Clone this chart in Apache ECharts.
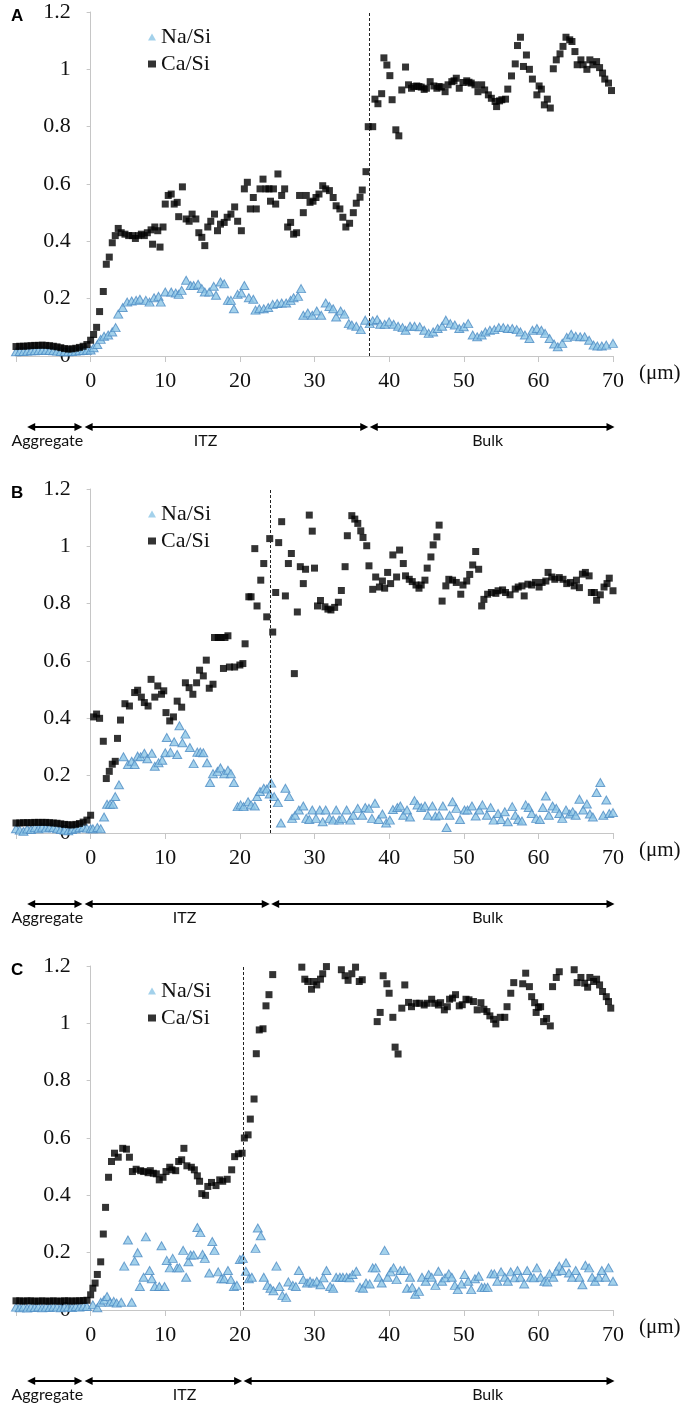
<!DOCTYPE html>
<html>
<head>
<meta charset="utf-8">
<script src="https://cdn.jsdelivr.net/npm/echarts@6/dist/echarts.min.js"></script>
<style>
html, body { margin: 0; padding: 0; background: #fff; }
#chart { width: 686px; height: 1406px; }
</style>
</head>
<body>
<div id="chart"></div>
<script>
// ---- data: [distance (um), ratio] ----
var naSiA = [[-10,0.015],[-9.5,0.016],[-9,0.016],[-8.5,0.017],[-8,0.018],[-7.5,0.018],[-7,0.019],[-6.5,0.02],[-6,0.02],[-5.5,0.019],[-5,0.018],[-4.5,0.017],[-4,0.016],[-3.5,0.015],[-3,0.015],[-2.5,0.016],[-2,0.017],[-1.5,0.018],[-1,0.019],[-0.5,0.02],
  [0,0.021],[0.4,0.029],[0.9,0.04],[1.35,0.058],[1.8,0.069],[2.35,0.073],[2.9,0.084],[3.35,0.099],[3.7,0.146],[4.3,0.169],[4.9,0.188],[5.5,0.192],[6.1,0.194],[6.6,0.198],[7.4,0.194],[7.9,0.188],[8.5,0.203],[9.1,0.208],[9.4,0.188],[10,0.223],[10.8,0.223],[11.4,0.22],[11.8,0.215],[12.2,0.229],[12.8,0.264],[13.4,0.246],[13.8,0.246],[14.4,0.25],[14.9,0.235],[15.3,0.223],[15.9,0.223],[16.5,0.243],[16.8,0.212],[17.4,0.258],[17.9,0.252],[18.4,0.194],[18.8,0.194],[19.2,0.165],[19.7,0.215],[20.2,0.22],[20.6,0.246],[21.2,0.203],[21.8,0.198],[22.1,0.16],[22.6,0.165],[23.2,0.165],[23.8,0.169],[24.4,0.18],[25,0.183],[25.6,0.185],[26.2,0.185],[26.8,0.194],[27.2,0.203],[27.8,0.208],[28.2,0.235],[28.5,0.142],[29.1,0.15],[29.7,0.142],[30.3,0.157],[30.9,0.142],[31.5,0.185],[32,0.173],[32.5,0.165],[32.9,0.136],[33.5,0.157],[34,0.146],[34.6,0.113],[35,0.108],[35.6,0.104],[36.2,0.092],[36.8,0.125],[37.4,0.113],[37.8,0.123],[38.4,0.127],[38.8,0.111],[39.4,0.111],[40,0.119],[40.6,0.111],[41.2,0.104],[41.8,0.099],[42.2,0.09],[42.8,0.104],[43.4,0.104],[44.1,0.102],[44.7,0.09],[45.3,0.079],[45.9,0.084],[46.5,0.096],[47.1,0.104],[47.6,0.125],[48.2,0.113],[48.8,0.108],[49.4,0.096],[50,0.102],[50.6,0.113],[51.2,0.073],[51.8,0.067],[52.4,0.073],[52.9,0.084],[53.5,0.09],[54.1,0.092],[54.7,0.099],[55.3,0.099],[55.9,0.096],[56.5,0.096],[57.1,0.092],[57.6,0.084],[58.2,0.073],[58.8,0.061],[59.2,0.09],[59.8,0.096],[60.4,0.09],[60.9,0.079],[61.5,0.061],[62.1,0.042],[62.6,0.032],[63.2,0.044],[63.8,0.065],[64.4,0.076],[65,0.069],[65.6,0.067],[66.2,0.067],[66.8,0.055],[67.4,0.038],[67.9,0.035],[68.5,0.035],[69.1,0.038],[70,0.044]];

var caSiA = [[-10,0.033],[-9.5,0.034],[-9,0.034],[-8.5,0.035],[-8,0.036],[-7.5,0.037],[-7,0.037],[-6.5,0.038],[-6,0.037],[-5.5,0.036],[-5,0.034],[-4.5,0.032],[-4,0.029],[-3.5,0.026],[-3,0.024],[-2.5,0.025],[-2,0.027],[-1.5,0.03],[-1,0.034],[-0.5,0.04],
  [0,0.055],[0.4,0.075],[0.8,0.1],[1.2,0.155],[1.7,0.225],[2.1,0.32],[2.5,0.345],[2.9,0.395],[3.3,0.42],[3.7,0.445],[4.1,0.43],[4.6,0.425],[5.1,0.42],[5.6,0.42],[6,0.41],[6.4,0.42],[6.8,0.425],[7.2,0.42],[7.6,0.43],[8.1,0.44],[8.3,0.39],[8.6,0.45],[9,0.437],[9.3,0.38],[9.7,0.45],[10,0.53],[10.4,0.56],[10.8,0.565],[11.2,0.53],[11.6,0.536],[11.8,0.486],[12.3,0.59],[12.8,0.478],[13.2,0.47],[13.6,0.495],[14.1,0.478],[14.5,0.43],[14.9,0.414],[15.3,0.385],[15.7,0.45],[16.1,0.47],[16.6,0.495],[17,0.437],[17.4,0.46],[17.9,0.466],[18.3,0.484],[18.8,0.495],[19.3,0.52],[19.7,0.47],[20.2,0.437],[20.6,0.583],[21,0.606],[21.4,0.513],[21.8,0.553],[22.2,0.513],[22.7,0.583],[23.1,0.617],[23.5,0.583],[23.9,0.583],[24.1,0.54],[24.5,0.583],[24.8,0.53],[25.1,0.635],[25.6,0.56],[26,0.583],[26.4,0.45],[26.8,0.466],[27.2,0.425],[27.6,0.43],[28,0.56],[28.5,0.5],[28.9,0.56],[29.4,0.536],[29.8,0.54],[30.2,0.553],[30.6,0.565],[31.1,0.594],[31.5,0.583],[32,0.577],[32.5,0.553],[32.9,0.524],[33.4,0.513],[33.8,0.484],[34.2,0.45],[34.7,0.463],[35.2,0.5],[35.6,0.533],[36.1,0.554],[36.4,0.579],[36.9,0.643],[37.2,0.8],[37.8,0.8],[38.1,0.896],[38.5,0.88],[39,0.915],[39.3,1.04],[39.7,1.015],[40.1,0.978],[40.4,0.894],[40.9,0.789],[41.3,0.768],[41.7,0.928],[42.2,1.008],[42.6,0.946],[43,0.934],[43.3,0.94],[43.7,0.942],[44,0.94],[44.3,0.938],[44.7,0.93],[45,0.934],[45.5,0.957],[46,0.942],[46.4,0.934],[46.7,0.94],[47,0.938],[47.5,0.922],[47.9,0.946],[48.4,0.957],[48.7,0.96],[49,0.969],[49.4,0.934],[49.9,0.954],[50.4,0.96],[50.7,0.955],[51,0.952],[51.5,0.946],[51.9,0.922],[52.4,0.946],[52.8,0.928],[53.3,0.911],[53.7,0.899],[54.2,0.888],[54.4,0.87],[54.8,0.89],[55.1,0.894],[55.6,0.896],[55.9,0.931],[56.4,0.977],[56.9,1.019],[57.2,1.083],[57.6,1.112],[58,1.01],[58.4,1.05],[58.8,1],[59.2,0.966],[59.8,0.911],[60.1,0.942],[60.4,0.931],[60.8,0.876],[61.2,0.896],[61.6,0.865],[62,1.002],[62.4,1.033],[62.9,1.054],[63.3,1.08],[63.7,1.112],[64.2,1.103],[64.5,1.097],[64.9,1.062],[65.2,1.016],[65.7,1.033],[66,1.016],[66.5,1],[66.9,1.033],[67.3,1.016],[67.8,1.027],[68.2,1.006],[68.6,0.987],[68.9,0.966],[69.4,0.952],[69.8,0.926]];

var naSiB = [[-10,0.015],[-9.5,0.01],[-9,0.006],[-8.5,0.014],[-8,0.012],[-7.5,0.018],[-7,0.015],[-6.5,0.02],[-6,0.017],[-5.5,0.02],[-5,0.018],[-4.5,0.015],[-4,0.012],[-3.5,0.01],[-3,0.008],[-2.5,0.012],[-2,0.015],[-1.5,0.018],[-1,0.02],[-0.5,0.017],
  [0,0.015],[0.3,0.015],[0.9,0.019],[1.35,0.015],[1.8,0.056],[2.2,0.1],[2.6,0.1],[3,0.1],[3.3,0.127],[3.8,0.168],[4.4,0.266],[5,0.239],[5.5,0.25],[5.9,0.239],[6.3,0.268],[6.7,0.266],[7.2,0.278],[7.6,0.259],[8.2,0.278],[8.6,0.233],[9.1,0.245],[9.6,0.254],[10,0.28],[10.2,0.333],[10.7,0.282],[11.2,0.318],[11.6,0.274],[11.9,0.374],[12.3,0.315],[12.7,0.345],[13.3,0.298],[13.8,0.242],[14.3,0.282],[14.7,0.282],[15.1,0.28],[15.6,0.245],[16,0.176],[16.4,0.207],[17,0.215],[17.4,0.227],[17.9,0.207],[18.4,0.219],[18.8,0.207],[19.2,0.176],[19.7,0.092],[20.1,0.098],[20.5,0.092],[21.1,0.109],[21.5,0.098],[22,0.094],[22.3,0.127],[22.7,0.145],[23.2,0.156],[23.6,0.153],[24,0.136],[24.2,0.174],[24.6,0.127],[25.1,0.106],[25.5,0.035],[26.1,0.156],[26.6,0.127],[27,0.051],[27.4,0.062],[27.9,0.08],[28.5,0.094],[28.9,0.051],[29.3,0.047],[29.7,0.08],[30.2,0.051],[30.7,0.08],[31.1,0.039],[31.5,0.08],[32,0.051],[32.5,0.045],[32.9,0.08],[33.3,0.045],[33.7,0.051],[34.3,0.08],[34.8,0.045],[35.2,0.062],[35.8,0.086],[36.4,0.062],[36.8,0.089],[37.3,0.086],[37.7,0.051],[38.1,0.104],[38.6,0.047],[39.1,0.066],[39.6,0.035],[40.1,0.045],[40.5,0.082],[41.1,0.089],[41.5,0.094],[41.9,0.062],[42.4,0.08],[42.8,0.056],[43.4,0.113],[43.8,0.098],[44.3,0.089],[44.8,0.094],[45.2,0.062],[45.8,0.094],[46.2,0.059],[46.7,0.062],[47.2,0.094],[47.7,0.019],[48.1,0.062],[48.5,0.109],[49,0.086],[49.5,0.047],[50.1,0.08],[50.5,0.08],[51.1,0.094],[51.6,0.059],[52.1,0.08],[52.5,0.098],[53.1,0.062],[53.6,0.089],[54,0.045],[54.6,0.068],[55,0.047],[55.5,0.074],[55.9,0.039],[56.5,0.092],[56.9,0.062],[57.3,0.047],[57.8,0.042],[58.3,0.098],[58.7,0.089],[59.1,0.068],[59.7,0.051],[60.2,0.047],[60.6,0.089],[61,0.129],[61.4,0.062],[61.9,0.094],[62.4,0.086],[62.8,0.068],[63.2,0.051],[63.7,0.08],[64.2,0.066],[64.6,0.074],[65,0.062],[65.5,0.118],[66,0.08],[66.5,0.101],[66.9,0.066],[67.3,0.056],[67.8,0.141],[68.3,0.176],[68.7,0.062],[69.1,0.115],[69.5,0.068],[70,0.071]];

var caSiB = [[-10,0.035],[-9.5,0.035],[-9,0.036],[-8.5,0.036],[-8,0.036],[-7.5,0.037],[-7,0.037],[-6.5,0.037],[-6,0.037],[-5.5,0.036],[-5,0.035],[-4.5,0.034],[-4,0.032],[-3.5,0.03],[-3,0.029],[-2.5,0.028],[-2,0.03],[-1.5,0.033],[-1,0.038],[-0.5,0.045],
  [0,0.062],[0.4,0.405],[0.8,0.415],[1.2,0.4],[1.7,0.32],[2.1,0.19],[2.5,0.215],[2.9,0.24],[3.3,0.25],[3.6,0.33],[4,0.394],[4.6,0.451],[5.2,0.443],[5.9,0.49],[6.3,0.498],[6.8,0.474],[7.2,0.455],[7.7,0.443],[8.1,0.536],[8.6,0.474],[9,0.513],[9.5,0.484],[9.8,0.496],[10.1,0.42],[10.6,0.391],[11.1,0.405],[11.6,0.46],[12.2,0.439],[12.7,0.524],[13.2,0.507],[13.7,0.484],[14.2,0.524],[14.6,0.568],[15.1,0.548],[15.5,0.603],[15.9,0.505],[16.4,0.519],[16.6,0.682],[17.1,0.682],[17.5,0.682],[17.8,0.574],[18,0.682],[18.4,0.688],[18.6,0.579],[19.3,0.579],[20,0.586],[20.4,0.591],[20.7,0.66],[21.2,0.824],[21.5,0.824],[22,0.992],[22.3,0.792],[22.8,0.882],[23.2,0.94],[23.6,0.754],[24,1.027],[24.4,0.701],[24.8,0.839],[25.2,1.013],[25.6,1.086],[26.1,0.827],[26.5,0.94],[26.9,0.975],[27.3,0.556],[27.7,0.771],[28.1,0.929],[28.5,0.87],[28.8,0.92],[29.3,1.109],[29.7,1.053],[30,0.924],[30.4,0.792],[30.8,0.811],[31.4,0.789],[31.8,0.781],[32.2,0.778],[32.7,0.787],[33.2,0.805],[33.6,0.846],[34.1,0.929],[34.4,1.037],[35,1.107],[35.4,1.095],[35.8,1.08],[36.2,1.054],[36.5,1.031],[37,1.002],[37.3,0.932],[37.8,0.85],[38.2,0.893],[38.7,0.858],[39.1,0.879],[39.4,0.854],[39.8,0.909],[40.2,0.87],[40.5,0.97],[41,0.893],[41.4,0.987],[41.9,0.94],[42.2,0.897],[42.7,0.885],[43.1,0.877],[43.6,0.865],[44,0.854],[44.3,0.865],[44.8,0.882],[45.1,0.924],[45.6,0.963],[45.9,1.005],[46.4,1.033],[46.7,1.074],[47.1,0.809],[47.6,0.862],[48,0.885],[48.5,0.882],[49,0.874],[49.6,0.833],[49.9,0.865],[50.4,0.879],[50.8,0.902],[51.2,0.935],[51.6,0.982],[52,0.92],[52.4,0.792],[52.7,0.815],[53.2,0.833],[53.7,0.839],[54.3,0.836],[54.6,0.845],[55.2,0.848],[55.6,0.839],[56.2,0.831],[56.9,0.851],[57.3,0.858],[57.8,0.862],[58.1,0.827],[58.6,0.868],[59.1,0.865],[59.6,0.874],[60.1,0.858],[60.5,0.874],[61,0.879],[61.3,0.909],[61.8,0.893],[62.2,0.885],[62.8,0.891],[63.3,0.885],[63.8,0.87],[64.3,0.874],[64.8,0.862],[65.1,0.882],[65.5,0.856],[65.9,0.903],[66.3,0.909],[66.8,0.897],[67.1,0.839],[67.5,0.839],[67.8,0.812],[68.3,0.831],[68.8,0.858],[69.2,0.87],[69.5,0.889],[70,0.845]];

var naSiC = [[-10,0.01],[-9.5,0.008],[-9,0.011],[-8.5,0.007],[-8,0.01],[-7.5,0.009],[-7,0.011],[-6.5,0.008],[-6,0.01],[-5.5,0.009],[-5,0.011],[-4.5,0.01],[-4,0.008],[-3.5,0.01],[-3,0.011],[-2.5,0.009],[-2,0.012],[-1.5,0.01],[-1,0.013],[-0.5,0.012],
  [0.3,0.018],[0.9,0.008],[1.35,0.027],[1.8,0.035],[2.2,0.047],[2.6,0.027],[3.1,0.03],[3.5,0.024],[4.1,0.027],[4.5,0.153],[5,0.244],[5.5,0.027],[5.9,0.171],[6.3,0.2],[6.6,0.082],[7.1,0.114],[7.4,0.255],[7.9,0.138],[8.2,0.109],[8.6,0.082],[9.2,0.082],[9.5,0.224],[9.9,0.082],[10.2,0.173],[10.6,0.147],[11,0.18],[11.6,0.147],[11.9,0.147],[12.4,0.208],[12.8,0.114],[13.1,0.168],[13.4,0.192],[13.8,0.192],[14.3,0.288],[14.7,0.27],[15,0.194],[15.3,0.18],[15.9,0.129],[16.3,0.239],[16.6,0.208],[17.1,0.133],[17.5,0.109],[17.9,0.109],[18.4,0.138],[18.8,0.106],[19.2,0.082],[19.6,0.086],[20,0.176],[20.4,0.18],[20.8,0.135],[21.2,0.109],[21.6,0.114],[22.1,0.215],[22.4,0.286],[22.8,0.259],[23.2,0.114],[23.7,0.086],[24.1,0.076],[24.5,0.067],[24.9,0.153],[25.3,0.082],[25.7,0.051],[26.2,0.044],[26.5,0.098],[27.1,0.086],[27.5,0.082],[27.9,0.138],[28.5,0.106],[29,0.094],[29.4,0.1],[29.8,0.094],[30.3,0.1],[30.8,0.088],[31.2,0.112],[31.6,0.138],[32.1,0.082],[32.5,0.076],[32.9,0.114],[33.4,0.114],[33.8,0.114],[34.3,0.114],[34.7,0.112],[35.1,0.124],[35.6,0.135],[36.1,0.079],[36.5,0.076],[36.9,0.094],[37.4,0.091],[37.8,0.147],[38.2,0.147],[38.6,0.114],[39,0.094],[39.4,0.208],[39.8,0.114],[40.2,0.133],[40.6,0.147],[41,0.106],[41.5,0.138],[42,0.138],[42.4,0.076],[42.8,0.114],[43.1,0.079],[43.5,0.055],[44,0.065],[44.4,0.114],[44.9,0.1],[45.3,0.124],[45.7,0.114],[46.2,0.086],[46.6,0.135],[47.1,0.1],[47.5,0.112],[48,0.126],[48.4,0.114],[48.8,0.086],[49.2,0.071],[49.7,0.091],[50.1,0.124],[50.6,0.1],[51,0.071],[51.5,0.109],[52,0.118],[52.4,0.079],[52.8,0.079],[53.2,0.079],[53.7,0.126],[54.1,0.126],[54.5,0.1],[55,0.133],[55.5,0.114],[55.9,0.1],[56.3,0.133],[56.8,0.112],[57.2,0.138],[57.6,0.114],[58.1,0.091],[58.5,0.138],[59,0.114],[59.4,0.112],[59.8,0.147],[60.3,0.114],[60.8,0.1],[61.2,0.098],[61.5,0.126],[62,0.114],[62.4,0.135],[62.8,0.153],[63.2,0.138],[63.7,0.165],[64.1,0.129],[64.5,0.114],[65,0.138],[65.5,0.114],[65.9,0.088],[66.3,0.156],[66.8,0.147],[67.2,0.114],[67.6,0.1],[68.1,0.114],[68.5,0.138],[69,0.114],[69.4,0.147],[70,0.1]];

var caSiC = [[-10,0.032],[-9.5,0.032],[-9,0.031],[-8.5,0.032],[-8,0.032],[-7.5,0.031],[-7,0.031],[-6.5,0.032],[-6,0.031],[-5.5,0.031],[-5,0.032],[-4.5,0.031],[-4,0.031],[-3.5,0.032],[-3,0.032],[-2.5,0.031],[-2,0.032],[-1.5,0.032],[-1,0.033],[-0.5,0.034],
  [0,0.053],[0.3,0.076],[0.6,0.094],[0.9,0.124],[1.35,0.168],[1.7,0.265],[2,0.358],[2.4,0.463],[2.8,0.518],[3.2,0.547],[3.7,0.533],[4.3,0.564],[4.8,0.561],[5.2,0.533],[5.6,0.483],[6.1,0.491],[6.7,0.486],[7.1,0.483],[7.7,0.479],[8,0.486],[8.4,0.477],[8.8,0.475],[9.2,0.454],[9.7,0.463],[10.1,0.483],[10.6,0.498],[10.9,0.489],[11.4,0.486],[11.8,0.518],[12.2,0.524],[12.5,0.564],[12.9,0.503],[13.5,0.498],[13.9,0.489],[14.3,0.468],[14.6,0.449],[14.9,0.406],[15.4,0.4],[15.7,0.431],[16.2,0.445],[16.8,0.434],[17.3,0.454],[17.7,0.449],[18.3,0.456],[18.9,0.489],[19.3,0.535],[19.8,0.545],[20.3,0.547],[20.6,0.6],[21.1,0.611],[21.4,0.666],[21.9,0.736],[22.2,0.894],[22.6,0.977],[23.1,0.981],[23.5,1.061],[23.9,1.1],[24.4,1.17],
  [28.3,1.196],[28.7,1.154],[29.1,1.146],[29.6,1.119],[29.9,1.146],[30.3,1.134],[30.8,1.154],[31.1,1.173],[31.6,1.198],[33.6,1.187],[34.1,1.166],[34.5,1.15],[35,1.173],[35.5,1.196],[36,1.146],[36.4,1.152],
  [38.4,1.006],[38.8,1.038],[39.2,1.166],[39.7,1.138],[40,1.105],[40.5,1.021],[40.8,0.917],[41.2,0.893],[41.7,1.053],[42.1,1.134],[42.6,1.073],[43,1.058],[43.6,1.07],[44.1,1.07],[44.7,1.064],[45.1,1.07],[45.7,1.084],[46.1,1.07],[46.6,1.064],[46.9,1.072],[47.4,1.047],[47.8,1.058],[48.1,1.084],[48.5,1.088],[48.9,1.1],[49.4,1.061],[49.8,1.065],[50.3,1.084],[50.7,1.082],[51.3,1.076],[51.8,1.047],[52.3,1.072],[52.7,1.049],[53.1,1.041],[53.5,1.026],[54,1.014],[54.3,0.998],[54.9,1.021],[55.5,1.021],[55.8,1.058],[56.3,1.105],[56.7,1.142],
  [57.9,1.138],[58.3,1.175],[58.8,1.128],[59.1,1.093],[59.5,1.072],[59.7,1.038],[60,1.056],[60.3,1.058],[60.7,1.006],[61.1,1.017],[61.6,0.991],[61.9,1.128],[62.4,1.16],[62.8,1.18],
  [64.8,1.187],[65.2,1.142],[65.7,1.16],[66.2,1.14],[66.6,1.126],[66.9,1.16],[67.4,1.146],[67.8,1.154],[68.2,1.134],[68.6,1.111],[69.1,1.093],[69.4,1.076],[69.7,1.053]];

var naSi = [naSiA, naSiB, naSiC];
var caSi = [caSiA, caSiB, caSiC];
var panelLetters = ['A', 'B', 'C'];
var itzEnd = [37.3, 24.1, 20.4];          // dashed ITZ / bulk boundary (um)
var regionNames = ['Aggregate', 'ITZ', 'Bulk'];
var aggregateSpan = [-8.5, -1.1];
var bulkEnd = 70.2;
var regionLabelX = [[-5.8, 15.4, 53.2], [-5.8, 12.6, 53.2], [-5.8, 12.6, 53.2]];

var gridLeft = 16;
var gridTops = [12, 489, 966];
var gridHeight = 344;
var serif = '"Liberation Serif", "Times New Roman", serif';
var axisGray = '#c6c6c6';
var naFill = '#8cc6e6';
var naEdge = '#4d8cc4';

var chart = echarts.init(document.getElementById('chart'));

var grids = [], xAxes = [], yAxes = [], series = [], legends = [];
for (var i = 0; i < 3; i++) {
    grids.push({left: gridLeft, right: 73, top: gridTops[i], height: gridHeight, containLabel: false, outerBoundsMode: 'none'});
    xAxes.push({
        gridIndex: i, type: 'value', min: -10, max: 70, interval: 10,
        axisLine: {onZero: false, lineStyle: {color: axisGray}},
        axisTick: {length: 6, lineStyle: {color: axisGray}},
        axisLabel: {
            margin: 14, color: '#111', fontFamily: serif, fontSize: 22,
            formatter: function (v) { return v === -10 ? '' : String(v); }
        },
        splitLine: {show: false},
        name: '(\u03bcm)', nameLocation: 'end', nameGap: 26,
        nameTextStyle: {color: '#111', fontFamily: serif, fontSize: 21, verticalAlign: 'top', padding: [7, 0, 0, 0]}
    });
    yAxes.push({
        gridIndex: i, type: 'value', position: 'left', offset: 0, min: 0, max: 1.2, interval: 0.2,
        axisLine: {show: true, onZero: false, lineStyle: {color: axisGray}},
        axisTick: {show: true, length: 4, lineStyle: {color: axisGray}},
        axisLabel: {margin: 20, color: '#111', fontFamily: serif, fontSize: 22},
        splitLine: {show: false}
    });
    series.push({
        type: 'scatter', name: 'Na/Si', xAxisIndex: i, yAxisIndex: i,
        data: naSi[i], symbol: 'triangle', symbolSize: [9, 8],
        itemStyle: {color: naFill, borderColor: naEdge, borderWidth: 1},
        silent: true
    });
    series.push({
        type: 'scatter', name: 'Ca/Si', xAxisIndex: i, yAxisIndex: i,
        data: caSi[i], symbol: 'rect', symbolSize: 7,
        itemStyle: {color: '#000'},
        silent: true,
        markLine: {
            silent: true, symbol: 'none', label: {show: false},
            lineStyle: {color: '#222', width: 1, type: [3, 2]},
            data: [{xAxis: itzEnd[i]}]
        }
    });
    legends.push({
        orient: 'vertical', left: 143, top: gridTops[i] + 9,
        itemWidth: 8, itemHeight: 7, itemGap: 5, selectedMode: false,
        itemStyle: {borderWidth: 0},
        textStyle: {color: '#111', fontFamily: serif, fontSize: 22},
        data: [{name: 'Na/Si', icon: 'triangle'}, {name: 'Ca/Si', icon: 'rect'}]
    });
}

chart.setOption({
    animation: false,
    backgroundColor: '#fff',
    textStyle: {fontFamily: serif},
    grid: grids, xAxis: xAxes, yAxis: yAxes, series: series, legend: legends
});

// move each y axis onto x = 0 (negative offset shifts a left axis to the right)
var yShift = [];
for (var k = 0; k < 3; k++) {
    var zeroX = chart.convertToPixel({xAxisIndex: k}, 0);
    yShift.push({offset: -(zeroX - gridLeft)});
}
chart.setOption({yAxis: yShift});

// annotations: panel letters and the Aggregate / ITZ / Bulk arrows
var graphics = [];
function arrowHead(x, y, dir) {
    return {type: 'polygon', shape: {points: [[x, y], [x + dir * 8, y - 4], [x + dir * 8, y + 4]]}, style: {fill: '#000'}};
}
for (var p = 0; p < 3; p++) {
    graphics.push({
        type: 'text', left: 11, top: gridTops[p] - 4,
        style: {text: panelLetters[p], fill: '#000', font: 'bold 17px "Liberation Sans", Arial, sans-serif'}
    });
    var axisY = chart.convertToPixel({gridIndex: p}, [0, 0])[1];
    var arrowY = axisY + 71, labelY = axisY + 85;
    var spans = [aggregateSpan, [-0.8, itzEnd[p] - 0.1], [itzEnd[p] + 0.1, bulkEnd]];
    for (var r = 0; r < 3; r++) {
        var x1 = chart.convertToPixel({gridIndex: p}, [spans[r][0], 0])[0];
        var x2 = chart.convertToPixel({gridIndex: p}, [spans[r][1], 0])[0];
        graphics.push({type: 'line', shape: {x1: x1 + 4, y1: arrowY, x2: x2 - 4, y2: arrowY}, style: {stroke: '#000', lineWidth: 2}});
        graphics.push(arrowHead(x1, arrowY, 1));
        graphics.push(arrowHead(x2, arrowY, -1));
        var lx = chart.convertToPixel({gridIndex: p}, [regionLabelX[p][r], 0])[0];
        graphics.push({
            type: 'text', x: lx, y: labelY,
            style: {text: regionNames[r], fill: '#111', font: '16px Lato, "Open Sans", sans-serif', textAlign: 'center', textVerticalAlign: 'middle'}
        });
    }
}
chart.setOption({graphic: graphics});
</script>
</body>
</html>
